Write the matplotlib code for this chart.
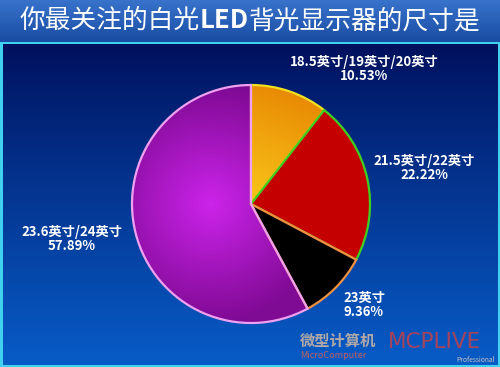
import numpy as np
import matplotlib
matplotlib.use("Agg")
import matplotlib.pyplot as plt
from matplotlib.patches import Rectangle

plt.rcParams['font.family'] = ['Noto Sans CJK SC', 'DejaVu Sans']

TITLE_PARTS = [("你最关注的白光", "medium"), ("LED", "bold"), ("背光显示器的尺寸是", "medium")]
labels = ["18.5英寸/19英寸/20英寸", "21.5英寸/22英寸", "23英寸", "23.6英寸/24英寸"]
shares = [10.53, 22.22, 9.36, 57.89]
face_colors = ["#e88a00", "#c40000", "#000000", "#b418d0"]
edge_colors = ["#f0e020", "#40d020", "#f09040", "#f0a0f0"]

# layout (pixel coords, y measured from top)
W, H = 500, 367
CX, CY, R = 251, 204, 119
label_pos = [(364, 69), (424, 168), (364, 305), (72, 239)]

fig = plt.figure(figsize=(W / 100, H / 100), dpi=100)
ax = fig.add_axes([0, 0, 1, 1])
ax.set_xlim(0, W); ax.set_ylim(0, H); ax.axis("off")

# background: body gradient + title bar
t = np.linspace(0, 1, 256)[:, None]
top, bot = np.array([0.0, 0.06, 0.36]), np.array([0.03, 0.36, 0.78])
body = np.repeat(top + (bot - top) * t[..., None] ** 0.9, 2, axis=1)
ax.imshow(body, extent=(0, W, 0, H - 43), origin="upper", aspect="auto", zorder=0)
tb_top, tb_bot = np.array([0.22, 0.45, 0.80]), np.array([0.10, 0.30, 0.64])
tbar = np.repeat(tb_top + (tb_bot - tb_top) * t[..., None], 2, axis=1)
ax.imshow(tbar, extent=(0, W, H - 42, H), origin="upper", aspect="auto", zorder=0)
ax.add_patch(Rectangle((0, H - 43.5), W, 1.5, color="#40d0f0", lw=0, zorder=1))
for r in [(0, 0, 2.5, H - 42), (W - 2.5, 0, 2.5, H - 42), (0, 0, W, 2.5)]:
    ax.add_patch(Rectangle(r[:2], r[2], r[3], color="#40d0f0", lw=0, zorder=1))

# title, LED in bold; measure pieces to center the whole line
renderer = fig.canvas.get_renderer()
pieces = [ax.text(0, H - 21, s, color="white", fontsize=18.5, fontweight=fw,
                  ha="left", va="center", zorder=5) for s, fw in TITLE_PARTS]
widths = [p.get_window_extent(renderer).width for p in pieces]
x = (W - sum(widths)) / 2
for p, w in zip(pieces, widths):
    p.set_x(x); x += w

wedges, _ = ax.pie(shares, colors=face_colors, startangle=90, counterclock=False,
                   center=(CX, H - CY), radius=R, frame=True,
                   wedgeprops=dict(linewidth=1.6))
for w, ec in zip(wedges, edge_colors):
    w.set_edgecolor(ec)
    w.set_zorder(3)
ax.set_xlim(0, W); ax.set_ylim(0, H); ax.set_aspect("equal"); ax.axis("off")

# gradient fills for orange and purple slices
n = 300
xx, yy = np.meshgrid(np.linspace(CX - R, CX + R, n), np.linspace(H - CY + R, H - CY - R, n))
g = np.clip((yy - (H - CY)) / R * 0.8 + (xx - CX) / R * 0.3, 0, 1)[..., None]
orange = np.array([0.98, 0.78, 0.10]) * (1 - g) + np.array([0.90, 0.50, 0.0]) * g
d = np.clip(np.hypot(xx - CX + 40, yy - (H - CY)) / R, 0, 1)[..., None]
purple = np.array([0.80, 0.14, 0.92]) * (1 - d) + np.array([0.50, 0.04, 0.58]) * d
for idx, img in [(0, orange), (3, purple)]:
    wedges[idx].set_facecolor("none")
    im = ax.imshow(img, extent=(CX - R, CX + R, H - CY - R, H - CY + R), zorder=2)
    im.set_clip_path(wedges[idx])

for lab, s, (lx, ly) in zip(labels, shares, label_pos):
    ax.text(lx, H - ly, f"{lab}\n{s:.2f}%", color="white", fontsize=9.5, fontweight="bold",
            ha="center", va="center", linespacing=1.0, zorder=6)

# watermark
ax.text(300, H - 341, "微型计算机", color="#b0a8a8", fontsize=11, fontweight="bold",
        ha="left", va="center", zorder=6)
ax.text(300, H - 355, "MicroComputer", color="#c06060", fontsize=6.5, style="italic",
        ha="left", va="center", zorder=6)
ax.text(388, H - 342, "MCPLIVE", color="#d04040", fontsize=15.5, ha="left", va="center",
        fontfamily="DejaVu Sans", alpha=0.8, zorder=6)
ax.text(495, H - 360, "Professional", color="#d0c0c0", fontsize=4.8, ha="right",
        va="center", zorder=6)

fig.savefig("out.png", dpi=100)
